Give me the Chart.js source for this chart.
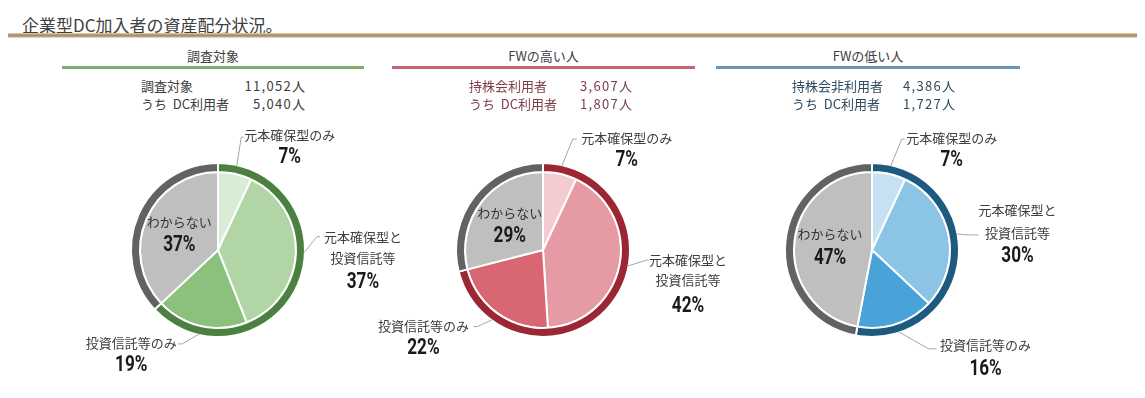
<!DOCTYPE html>
<html>
<head>
<meta charset="utf-8">
<script src="https://cdn.jsdelivr.net/npm/chart.js@4.4.1/dist/chart.umd.min.js"></script>
<style>
  html, body { margin: 0; padding: 0; background: #fff; }
  body { width: 1145px; height: 398px; position: relative; overflow: hidden;
         font-family: "Noto Sans CJK JP", "Noto Sans", sans-serif; color: #404040; }
  .abs { position: absolute; white-space: pre; }
  #title { left: 22px; top: 15px; font-size: 17px; line-height: 20px; color: #404040; }
  #rule { left: 8px; top: 33px; width: 1129px; height: 4px;
          background: linear-gradient(#e2d2b6, #a88660 55%, #c2a983);
          box-shadow: 0 1px 1px rgba(0,0,0,0.18); }
  .head { font-size: 13px; line-height: 16px; text-align: center; color: #404040; }
  .hline { height: 3px; }
  .info { font-size: 13px; line-height: 16px; }
  .val { letter-spacing: 1.3px; }
  canvas.pie { position: absolute; }
</style>
</head>
<body>
<div id="title" class="abs"></div>
<div id="rule" class="abs"></div>
<div id="panels"></div>
<script>
// ---------------- data ----------------
const groupTitles = ['調査対象', 'FWの高い人', 'FWの低い人'];
const infoLabelsTop = ['調査対象', '持株会利用者', '持株会非利用者'];
const infoValuesTop = ['11,052人', '3,607人', '4,386人'];
const infoLabelBottom = 'うち  DC利用者';
const infoValuesBottom = ['5,040人', '1,807人', '1,727人'];
const categories = ['元本確保型のみ', '元本確保型と\n投資信託等', '投資信託等のみ', 'わからない'];
const sharesAll = [7, 37, 19, 37];
const sharesHighFW = [7, 42, 22, 29];
const sharesLowFW = [7, 30, 16, 47];
const chartTitle = '企業型DC加入者の資産配分状況。';

// ---------------- layout & style ----------------
const seriesList = [sharesAll, sharesHighFW, sharesLowFW];
const panels = [
  { cx: 218, cy: 250, lineL: 62, lineR: 364, infoL: 141, infoR: 305,
    lineColor: '#80ae71', infoColor: '#404040', ringColor: '#4b8040',
    pieColors: ['#d9ecd4', '#b2d5a6', '#8cc17d', '#bfbfbf'],
    labels: [
      { elbow: [4.5, -29], end: [7, -29], tx: 53, ty: [-31], py: -9 },
      { elbow: [13, -16], end: [16, -16], tx: 59, ty: [-16, 5], py: 30 },
      { elbow: [-17, 10], end: [-21, 10], tx: -68, ty: [9], py: 32 }
    ] },
  { cx: 543, cy: 250, lineL: 392, lineR: 695, infoL: 469, infoR: 632,
    lineColor: '#c9636f', infoColor: '#7d3e4a', ringColor: '#9b2634',
    pieColors: ['#f3cbd0', '#e69aa3', '#d86773', '#bfbfbf'],
    labels: [
      { elbow: [11, -27], end: [15, -27], tx: 65, ty: [-28], py: -6 },
      { elbow: [19, -6], end: [21, -6], tx: 60.5, ty: [-6, 14], py: 40 },
      { elbow: [-15, 7], end: [-19, 7], tx: -69, ty: [6], py: 29 }
    ] },
  { cx: 872, cy: 250, lineL: 716, lineR: 1020, infoL: 792, infoR: 955,
    lineColor: '#6a93b4', infoColor: '#2f4b60', ringColor: '#1d5a7f',
    pieColors: ['#c5e2f2', '#8cc4e5', '#4aa3d8', '#bfbfbf'],
    labels: [
      { elbow: [11, -27], end: [14, -27], tx: 61, ty: [-28], py: -6 },
      { elbow: [10, 1], end: [22, 1], tx: 61, ty: [-24, -1], py: 23 },
      { elbow: [30, 17], end: [38, 17], tx: 87, ty: [13], py: 38 }
    ] }
];
const ringGray = '#626262';
const CANVAS_LEFT = 180, CANVAS_W = 390, CANVAS_TOP = 110, CANVAS_H = 288;
const AREA = 190;

document.getElementById('title').textContent = chartTitle;

function addDiv(cls, text, css) {
  const d = document.createElement('div');
  d.className = 'abs ' + cls;
  if (text !== null) d.textContent = text;
  Object.assign(d.style, css);
  document.getElementById('panels').appendChild(d);
  return d;
}

function drawPct(ctx, text, x, y) {
  ctx.save();
  ctx.translate(x, y);
  ctx.scale(0.78, 1);
  ctx.font = 'bold 22px Roboto, "Liberation Sans", sans-serif';
  ctx.fillStyle = '#1a1a1a';
  ctx.textAlign = 'center';
  ctx.textBaseline = 'middle';
  ctx.fillText(text, 0, 0);
  ctx.restore();
}

const labelPlugin = {
  id: 'sliceLabels',
  afterDatasetsDraw(chart, args, opts) {
    const ctx = chart.ctx;
    const ringMeta = chart.getDatasetMeta(0);
    const pieMeta = chart.getDatasetMeta(1);
    const values = chart.data.datasets[1].data;
    const R = ringMeta.data[0].outerRadius - 1;
    const layout = opts.layout;
    ctx.save();
    pieMeta.data.forEach((arc, i) => {
      const p = arc.getProps(['x', 'y', 'startAngle', 'endAngle', 'outerRadius'], true);
      const mid = (p.startAngle + p.endAngle) / 2;
      const pctText = values[i] + '%';
      const lines = categories[i].split('\n');
      if (i === values.length - 1) {
        const r = p.outerRadius * 0.54;
        const x = p.x + r * Math.cos(mid), y = p.y + r * Math.sin(mid);
        ctx.font = '13px "Noto Sans CJK JP", sans-serif';
        ctx.fillStyle = '#333333';
        ctx.textAlign = 'center';
        ctx.textBaseline = 'middle';
        ctx.fillText(lines[0], x, y - 11.5);
        drawPct(ctx, pctText, x, y + 12);
        return;
      }
      const L = layout[i];
      const px = p.x + R * Math.cos(mid), py = p.y + R * Math.sin(mid);
      ctx.strokeStyle = '#a6a6a6';
      ctx.lineWidth = 1;
      ctx.beginPath();
      ctx.moveTo(px, py);
      ctx.lineTo(px + L.elbow[0], py + L.elbow[1]);
      ctx.lineTo(px + L.end[0], py + L.end[1]);
      ctx.stroke();
      ctx.font = '13px "Noto Sans CJK JP", sans-serif';
      ctx.fillStyle = '#404040';
      ctx.textAlign = 'center';
      ctx.textBaseline = 'middle';
      lines.forEach((t, k) => ctx.fillText(t, px + L.tx, py + L.ty[k]));
      drawPct(ctx, pctText, px + L.tx, py + L.py);
    });
    ctx.restore();
  }
};

panels.forEach((pn, idx) => {
  const data = seriesList[idx];
  addDiv('head', groupTitles[idx], { left: pn.lineL + 'px', width: (pn.lineR - pn.lineL) + 'px', top: '48px' });
  addDiv('hline', null, { left: pn.lineL + 'px', width: (pn.lineR - pn.lineL) + 'px', top: '66px',
    background: pn.lineColor });
  addDiv('info', infoLabelsTop[idx], { left: pn.infoL + 'px', top: '78px', color: pn.infoColor });
  addDiv('info', infoLabelBottom, { left: pn.infoL + 'px', top: '95.5px', color: pn.infoColor });
  addDiv('info val', infoValuesTop[idx], { left: (pn.infoR - 120 + 1.3) + 'px', width: '120px', textAlign: 'right', top: '78px', color: pn.infoColor });
  addDiv('info val', infoValuesBottom[idx], { left: (pn.infoR - 120 + 1.3) + 'px', width: '120px', textAlign: 'right', top: '95.5px', color: pn.infoColor });

  const cv = document.createElement('canvas');
  cv.className = 'pie';
  cv.width = CANVAS_W; cv.height = CANVAS_H;
  cv.style.width = CANVAS_W + 'px'; cv.style.height = CANVAS_H + 'px';
  cv.style.left = (pn.cx - CANVAS_LEFT) + 'px';
  cv.style.top = CANVAS_TOP + 'px';
  document.getElementById('panels').appendChild(cv);

  const dcTotal = data.slice(0, data.length - 1).reduce((a, b) => a + b, 0);
  const unknown = data[data.length - 1];
  const padTop = (pn.cy - CANVAS_TOP) - AREA / 2;
  const padLeft = CANVAS_LEFT - AREA / 2;

  new Chart(cv, {
    type: 'pie',
    data: {
      labels: categories,
      datasets: [
        { data: [dcTotal, unknown], backgroundColor: [pn.ringColor, ringGray],
          borderColor: '#ffffff', borderWidth: 2, weight: 9 },
        { data: data, backgroundColor: pn.pieColors,
          borderColor: '#ffffff', borderWidth: 2, weight: 78 }
      ]
    },
    options: {
      responsive: false,
      animation: false,
      events: [],
      radius: 87,
      layout: { padding: { top: padTop, bottom: CANVAS_H - padTop - AREA,
                           left: padLeft, right: CANVAS_W - padLeft - AREA } },
      plugins: {
        legend: { display: false },
        tooltip: { enabled: false },
        sliceLabels: { layout: pn.labels }
      }
    },
    plugins: [labelPlugin]
  });
});
</script>
</body>
</html>
